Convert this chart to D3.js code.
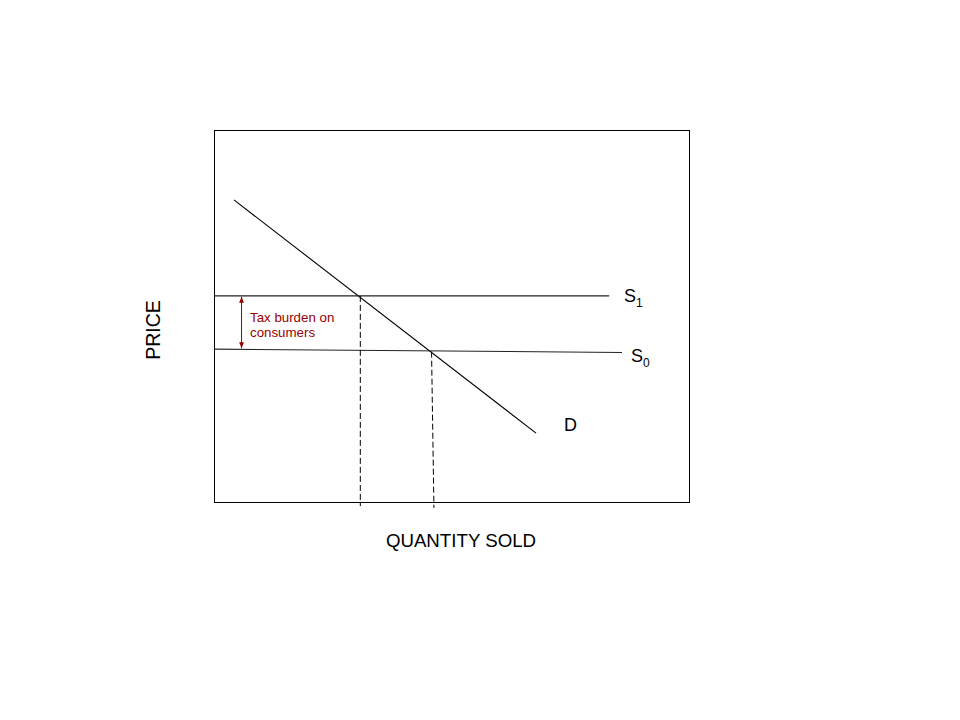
<!DOCTYPE html>
<html><head><meta charset="utf-8">
<script src="https://cdn.jsdelivr.net/npm/d3@7"></script>
<style>body{margin:0;background:#fff}svg{display:block}text{font-family:"Liberation Sans",Arial,sans-serif}</style>
</head><body>
<svg id="c" width="960" height="720"></svg>
<script>
// Data (economic units, 0-100 on both axes)
const demandPts = [[4.2, 81.2], [67.8, 18.5]];
const supply1Pts = [[0, 55.4], [83.2, 55.4]];
const supply0Pts = [[0, 41.1], [85.9, 40.2]];
const qtyLine1 = [[30.8, 55.4], [30.8, -1.1]];
const qtyLine0 = [[45.8, 40.4], [46.3, -1.6]];
const taxArrow = [[5.8, 55.2], [5.8, 41.3]];
const curveLabels = [
  {name: "S", sub: "1", x: 86.3, y: 53.8},
  {name: "S", sub: "0", x: 87.8, y: 37.6},
  {name: "D", sub: "", x: 73.7, y: 19.1}
];
const taxLabel = ["Tax burden on", "consumers"];
const xTitle = "QUANTITY SOLD";
const yTitle = "PRICE";

const svg = d3.select("#c");
const L = 214, R = 689, T = 130, B = 502;
const x = d3.scaleLinear().domain([0, 100]).range([L, R]);
const y = d3.scaleLinear().domain([0, 100]).range([B, T]);
const line = d3.line().x(d => x(d[0])).y(d => y(d[1]));

const defs = svg.append("defs");
["s","e"].forEach(id => {
  defs.append("marker").attr("id", "arr" + id)
    .attr("viewBox", "0 0 10 10").attr("refX", 10).attr("refY", 5)
    .attr("markerWidth", 6).attr("markerHeight", 6)
    .attr("orient", id === "s" ? "auto-start-reverse" : "auto")
    .append("path").attr("d", "M0,1 L10,5 L0,9 Z").attr("fill", "#990000");
});

svg.append("rect").attr("x", L + 0.5).attr("y", T + 0.5)
  .attr("width", R - L).attr("height", B - T)
  .attr("fill", "none").attr("stroke", "#000").attr("stroke-width", 1);

svg.append("path").attr("d", line(demandPts)).attr("fill", "none").attr("stroke", "#000").attr("stroke-width", 1.1);
svg.append("path").attr("d", line(supply1Pts)).attr("fill", "none").attr("stroke", "#222").attr("stroke-width", 1.1);
svg.append("path").attr("d", line(supply0Pts)).attr("fill", "none").attr("stroke", "#222").attr("stroke-width", 1.1);
[qtyLine1, qtyLine0].forEach(p => svg.append("path").attr("d", line(p))
  .attr("fill", "none").attr("stroke", "#000").attr("stroke-width", 1).attr("stroke-dasharray", "6,3"));

svg.append("path").attr("d", line(taxArrow)).attr("fill", "none")
  .attr("stroke", "#990000").attr("stroke-width", 1)
  .attr("marker-start", "url(#arrs)").attr("marker-end", "url(#arre)");

const tl = svg.append("text").attr("x", 250).attr("y", 322)
  .attr("fill", "#990000").attr("font-size", 13.3);
taxLabel.forEach((t, i) => tl.append("tspan").attr("x", 250).attr("dy", i ? 14.5 : 0).text(t));

curveLabels.forEach(c => {
  const t = svg.append("text").attr("x", x(c.x)).attr("y", y(c.y)).attr("font-size", 18).attr("fill", "#000");
  t.append("tspan").text(c.name);
  if (c.sub) t.append("tspan").attr("font-size", 12).attr("dy", 5).text(c.sub);
});

svg.append("text").attr("x", 461).attr("y", 547).attr("text-anchor", "middle")
  .attr("font-size", 18.7).text(xTitle);
svg.append("text").attr("transform", "translate(160," + 330 + ") rotate(-90)")
  .attr("text-anchor", "middle").attr("font-size", 19.5).text(yTitle);
</script>
</body></html>
